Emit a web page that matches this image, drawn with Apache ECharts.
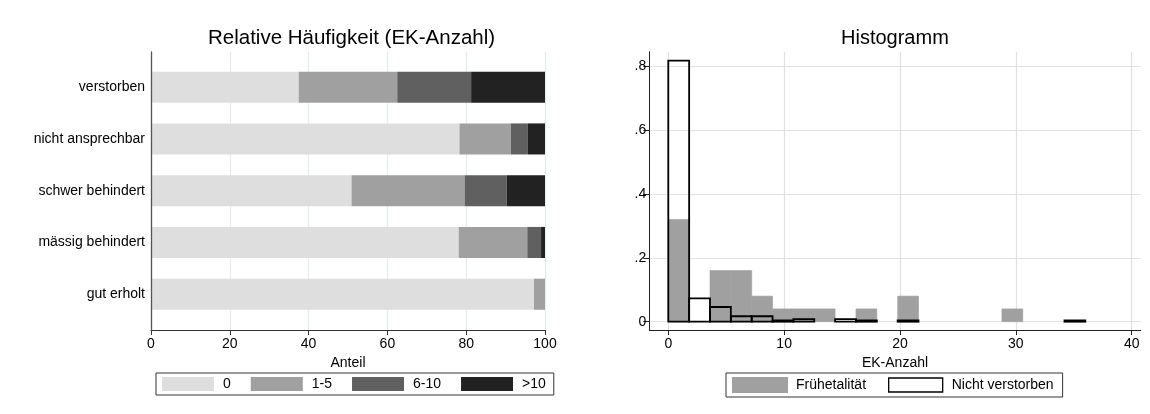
<!DOCTYPE html>
<html>
<head>
<meta charset="utf-8">
<script src="https://cdn.jsdelivr.net/npm/echarts@6/dist/echarts.min.js"></script>
<style>
  html, body { margin: 0; padding: 0; background: #fff; }
  #main { width: 1150px; height: 414px; }
</style>
</head>
<body>
<div id="main"></div>
<script>
// left panel: share (%) of each EK group per outcome
const outcomes = ["verstorben", "nicht ansprechbar", "schwer behindert", "mässig behindert", "gut erholt"]
const ekGroups = ["0", "1-5", "6-10", ">10"]
const share0 = [37.5, 78.3, 50.9, 78.1, 97.2]
const share1to5 = [25.0, 13.0, 28.7, 17.4, 2.8]
const share6to10 = [18.75, 4.35, 10.7, 3.5, 0]
const shareOver10 = [18.75, 4.35, 9.7, 1.0, 0]
const groupColors = ["#dedede", "#a0a0a0", "#606060", "#222222"]

// right panel: histogram (fraction per bin)
const binEdges = [0, 1.8, 3.6, 5.4, 7.2, 9.0, 10.8, 12.6, 14.4, 16.2, 18.0, 19.8, 21.6, 23.4, 25.2, 27.0, 28.8, 30.6, 32.4, 34.2, 36.0]
const fruehFreq = [0.32, 0, 0.16, 0.16, 0.08, 0.04, 0.04, 0.04, 0, 0.04, 0, 0.08, 0, 0, 0, 0, 0.04, 0, 0, 0]
const nichtFreq = [0.817, 0.073, 0.046, 0.017, 0.017, 0.004, 0.008, 0, 0.008, 0.004, 0, 0.004, 0, 0, 0, 0, 0, 0, 0, 0.004]
const histXTicks = [0, 10, 20, 30, 40]
const histYTicks = [0, 0.2, 0.4, 0.6, 0.8]

const font = "'Liberation Sans', Arial, sans-serif"

function binData(freq) {
  let out = []
  freq.forEach((f, i) => {
    if (f > 0) out.push([binEdges[i], binEdges[i + 1], f])
  })
  return out
}

function histItem(params, api) {
  const lo = api.coord([api.value(0), 0])
  const hi = api.coord([api.value(1), api.value(2)])
  return {
    type: "rect",
    shape: { x: lo[0], y: hi[1], width: hi[0] - lo[0], height: lo[1] - hi[1] },
    style: api.style(),
  }
}

const shares = [share0, share1to5, share6to10, shareOver10]
let barSeries = ekGroups.map((g, i) => ({
  name: g,
  type: "bar",
  stack: "anteil",
  xAxisIndex: 1,
  yAxisIndex: 1,
  barCategoryGap: "40%",
  itemStyle: { color: groupColors[i] },
  data: shares[i],
}))

let myChart = echarts.init(document.getElementById("main"))
myChart.setOption({
  animation: false,
  textStyle: { fontFamily: font },
  title: [
    { text: "Relative Häufigkeit (EK-Anzahl)", left: 208, top: 28, padding: 0,
      textStyle: { fontSize: 20.5, fontWeight: "normal", color: "#000", fontFamily: font } },
    { text: "Histogramm", left: 841, top: 28, padding: 0,
      textStyle: { fontSize: 20, fontWeight: "normal", color: "#000", fontFamily: font } },
  ],
  legend: [
    {
      data: ekGroups.map((g) => ({ name: g, icon: "rect" })),
      left: 156, top: 373,
      itemWidth: 52, itemHeight: 14, itemGap: 20,
      padding: [4, 8, 4, 6],
      borderColor: "#333", borderWidth: 1,
      selectedMode: false,
      textStyle: { fontSize: 14, color: "#000", padding: [0, 0, 0, 4] },
    },
    {
      data: [
        { name: "Frühetalität", icon: "rect", itemStyle: { color: "#a0a0a0" } },
        { name: "Nicht verstorben", icon: "rect", itemStyle: { color: "#fff", borderColor: "#000", borderWidth: 1.3 } },
      ],
      left: 726, top: 373,
      itemWidth: 54, itemHeight: 14, itemGap: 22,
      padding: [4, 9, 4, 6],
      borderColor: "#333", borderWidth: 1,
      selectedMode: false,
      textStyle: { fontSize: 14, color: "#000", padding: [0, 0, 0, 4] },
    },
  ],
  grid: [
    { left: 151, right: 605, top: 52, bottom: 84 },
    { left: 151, right: 605, top: 61.3, bottom: 93.9 },
    { left: 649.3, right: 9.3, top: 51.7, bottom: 84 },
  ],
  xAxis: [
    {
      gridIndex: 0, type: "value", min: 0, max: 100, interval: 20,
      axisLine: { lineStyle: { color: "#333", width: 1 } },
      axisTick: { length: 5, lineStyle: { color: "#333" } },
      axisLabel: { fontSize: 14, color: "#000", margin: 7 },
      splitLine: { lineStyle: { color: "#e4ecee", width: 1.2 } },
      name: "Anteil", nameLocation: "middle", nameGap: 20,
      nameTextStyle: { fontSize: 14, color: "#000" },
    },
    {
      gridIndex: 1, type: "value", min: 0, max: 100, show: false,
    },
    {
      gridIndex: 2, type: "value", min: -1.64, max: 40.78,
      axisLine: { onZero: false, lineStyle: { color: "#222", width: 1 } },
      axisTick: { length: 5, customValues: histXTicks, lineStyle: { color: "#222" } },
      axisLabel: { fontSize: 14, color: "#000", margin: 7, customValues: histXTicks },
      splitLine: { lineStyle: { color: "#e2e2e2", width: 1.2 } },
      name: "EK-Anzahl", nameLocation: "middle", nameGap: 20,
      nameTextStyle: { fontSize: 14, color: "#000" },
    },
  ],
  yAxis: [
    {
      gridIndex: 0, type: "value", min: 0, max: 1, z: 5,
      axisLine: { show: true, lineStyle: { color: "#555", width: 1.3 } },
      axisTick: { show: false }, axisLabel: { show: false }, splitLine: { show: false },
    },
    {
      gridIndex: 1, type: "category", data: outcomes, inverse: true,
      axisLine: { show: false }, axisTick: { show: false }, splitLine: { show: false },
      axisLabel: { fontSize: 14, color: "#000", margin: 6 },
    },
    {
      gridIndex: 2, type: "value", min: -0.026, max: 0.845,
      axisLine: { show: true, onZero: false, lineStyle: { color: "#222", width: 1 } },
      axisTick: { show: true, length: 6, customValues: histYTicks, lineStyle: { color: "#222" } },
      axisLabel: {
        fontSize: 14, color: "#000", margin: 3, customValues: histYTicks,
        formatter: (v) => (v === 0 ? "0" : String(+v.toFixed(1)).replace(/^0/, "")),
      },
      splitLine: { lineStyle: { color: "#e2e2e2", width: 1.2 } },
    },
  ],
  series: barSeries.concat([
    {
      name: "Frühetalität",
      type: "custom",
      xAxisIndex: 2, yAxisIndex: 2,
      renderItem: histItem,
      encode: { x: [0, 1], y: 2 },
      itemStyle: { color: "#a0a0a0", borderColor: "#a0a0a0", borderWidth: 0.6 },
      data: binData(fruehFreq),
    },
    {
      name: "Nicht verstorben",
      type: "custom",
      xAxisIndex: 2, yAxisIndex: 2,
      renderItem: histItem,
      encode: { x: [0, 1], y: 2 },
      itemStyle: { color: "rgba(0,0,0,0)", borderColor: "#000", borderWidth: 1.8 },
      data: binData(nichtFreq),
    },
  ]),
})

window.addEventListener("resize", () => {
  myChart.resize()
})
</script>
</body>
</html>
